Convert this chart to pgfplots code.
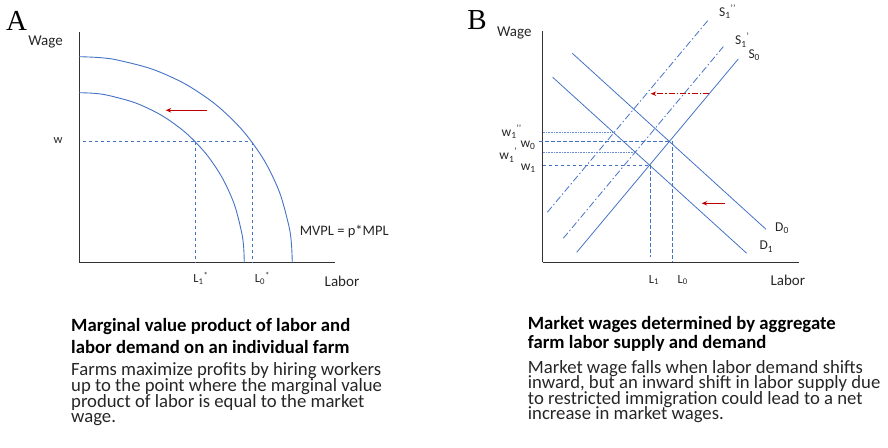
\documentclass[border=0pt]{standalone}
\usepackage{pgfplots}
\pgfplotsset{compat=1.18}
\usepackage{fontspec}
\setmainfont{Carlito}
\newfontfamily\serifA{Liberation Serif}
\usetikzlibrary{arrows.meta}
\definecolor{lblue}{RGB}{68,114,196}
\definecolor{dred}{RGB}{192,0,0}
\definecolor{axgray}{RGB}{50,50,50}
\definecolor{txt}{RGB}{38,38,38}
\pgfplotsset{panel/.style={axis lines=left, axis line style={-,line width=1.1bp,color=axgray},
  xtick=\empty, ytick=\empty, x=1bp, y=1bp, xmin=0, ymin=0, enlargelimits=false,
  clip=false, anchor=south west},
  curve/.style={lblue, line width=0.9bp, no marks},
  dsh/.style={lblue, line width=0.8bp, no marks, dash pattern=on 3.5bp off 2.5bp},
  dot/.style={lblue!80, line width=0.8bp, no marks, dash pattern=on 0.8bp off 0.8bp},
  dashdot/.style={lblue, line width=0.8bp, no marks, dash pattern=on 7bp off 2.5bp on 1.5bp off 2.5bp},
  redarr/.style={dred, line width=1bp, no marks, -{Stealth[length=5.5bp,width=4.5bp]}}}
\newcommand\lab[1]{\fontsize{#1bp}{#1bp}\selectfont}
\newcommand\para[2]{\fontsize{#1bp}{#2bp}\selectfont\lineskiplimit=-100bp\relax}
\begin{document}
\begin{tikzpicture}[x=1bp,y=1bp]
\path[use as bounding box] (0,0) rectangle (888,448);
% ---------------- Panel A
\begin{axis}[panel, at={(79.3,185.3)}, xmax=256, ymax=231]
\addplot[curve, smooth] coordinates {(213,0) (212.2,18) (209.8,35.8) (200.2,70.5) (184.5,103) (163.2,132.4) (136.9,157.8) (106.5,178.4) (72.8,193.6) (37,202.9) (18.6,205.2) (0,206)};
\addplot[curve, smooth] coordinates {(165,0) (164.4,14.8) (162.5,29.5) (155.1,58.1) (142.9,85) (126.4,109.3) (106.1,130.2) (82.5,147.2) (56.4,159.7) (28.6,167.4) (14.4,169.4) (0,170)};
\addplot[dsh] coordinates {(3.4,121) (172.4,121)};
\addplot[dsh] coordinates {(116.5,121) (116.5,0)};
\addplot[dsh] coordinates {(173.5,121) (173.5,0)};
\addplot[redarr] coordinates {(128,152.4) (86.4,152.4)};
\node[text=txt, font=\lab{15}] at (-33.8,221) {Wage};
\node[text=txt, font=\lab{12.5}] at (-21.3,122) {w};
\node[text=txt, font=\lab{14.5}, anchor=west] at (217,31) {MVPL = p*MPL};
\node[text=txt, font=\lab{12.5}] at (121.7,-15.3) {L\textsubscript{1}\textsuperscript{*}};
\node[text=txt, font=\lab{12.5}] at (183.2,-15.3) {L\textsubscript{0}\textsuperscript{*}};
\node[text=txt, font=\lab{15}] at (262.7,-19) {Labor};
\end{axis}
% ---------------- Panel B
\begin{axis}[panel, at={(542.7,185.7)}, xmax=256.3, ymax=231.3]
\addplot[curve, line width=0.8bp] coordinates {(29.6,209) (223.3,33)};
\addplot[curve, line width=0.8bp] coordinates {(10,185) (204,9)};
\addplot[curve, line width=0.8bp] coordinates {(34,10) (195.6,203.3)};
\addplot[dashdot] coordinates {(20.6,24) (180.6,215.6)};
\addplot[dashdot] coordinates {(4.6,50) (165,241.6)};
\addplot[dsh] coordinates {(-3.4,120.8) (127,120.8)};
\addplot[dsh] coordinates {(0,97) (107,97)};
\addplot[dsh] coordinates {(129.5,120.8) (129.5,0)};
\addplot[dsh] coordinates {(107.3,97) (107.3,5.6)};
\addplot[dot] coordinates {(0,129.5) (71.2,129.5)};
\addplot[dot] coordinates {(0,110.1) (92.5,110.1)};
\addplot[dred, line width=1bp, no marks, dash pattern=on 6bp off 2bp on 1.5bp off 2bp, -{Stealth[length=5.5bp,width=4.5bp]}] coordinates {(166.3,168.6) (108,168.6)};
\addplot[redarr] coordinates {(182.3,59) (159,59)};
\node[text=txt, font=\lab{15}] at (-28.4,229) {Wage};
\node[text=txt, font=\lab{13.5}, anchor=west] at (173,250.6) {S\textsubscript{1}\textsuperscript{’’}};
\node[text=txt, font=\lab{13.5}, anchor=west] at (189,222.3) {S\textsubscript{1}\textsuperscript{’}};
\node[text=txt, font=\lab{13.5}, anchor=west] at (202.3,207.3) {S\textsubscript{0}};
\node[text=txt, font=\lab{13.5}, anchor=west] at (229,34) {D\textsubscript{0}};
\node[text=txt, font=\lab{13.5}, anchor=west] at (213.3,15.6) {D\textsubscript{1}};
\node[text=txt, font=\lab{12.5}] at (111.3,-17.7) {L\textsubscript{1}};
\node[text=txt, font=\lab{12.5}] at (140,-17.7) {L\textsubscript{0}};
\node[text=txt, font=\lab{15}] at (245.1,-17.7) {Labor};
\node[text=txt, font=\lab{13.5}] at (-31,130.6) {w\textsubscript{1}\textsuperscript{’’}};
\node[text=txt, font=\lab{13.5}] at (-14.7,117.3) {w\textsubscript{0}};
\node[text=txt, font=\lab{13.5}] at (-34.4,107.3) {w\textsubscript{1}\textsuperscript{’}};
\node[text=txt, font=\lab{13.5}] at (-14.4,94) {w\textsubscript{1}};
\end{axis}
% ---------------- Panel letters
\node[font=\serifA\fontsize{29bp}{30bp}\selectfont] at (16.7,427) {A};
\node[font=\serifA\fontsize{29bp}{30bp}\selectfont] at (477,428) {B};
% ---------------- Captions (anchored at the baseline of their last line)
\begin{scope}[every node/.style={anchor=base west, inner sep=0pt, align=left}]
\node[font=\bfseries\para{18.7}{21.5}] at (71,94.5) {Marginal value product of labor and\\labor demand on an individual farm};
\node[text=txt, font=\para{18.7}{15.7}] at (71,25) {Farms maximize profits by hiring workers\\up to the point where the marginal value\\product of labor is equal to the market\\wage.};
\node[font=\bfseries\para{18.7}{18.5}] at (527.7,99.5) {Market wages determined by aggregate\\farm labor supply and demand};
\node[text=txt, font=\para{18.7}{15.5}] at (527.7,28) {Market wage falls when labor demand shifts\\inward, but an inward shift in labor supply due\\to restricted immigration could lead to a net\\increase in market wages.};
\end{scope}
\end{tikzpicture}
\end{document}
